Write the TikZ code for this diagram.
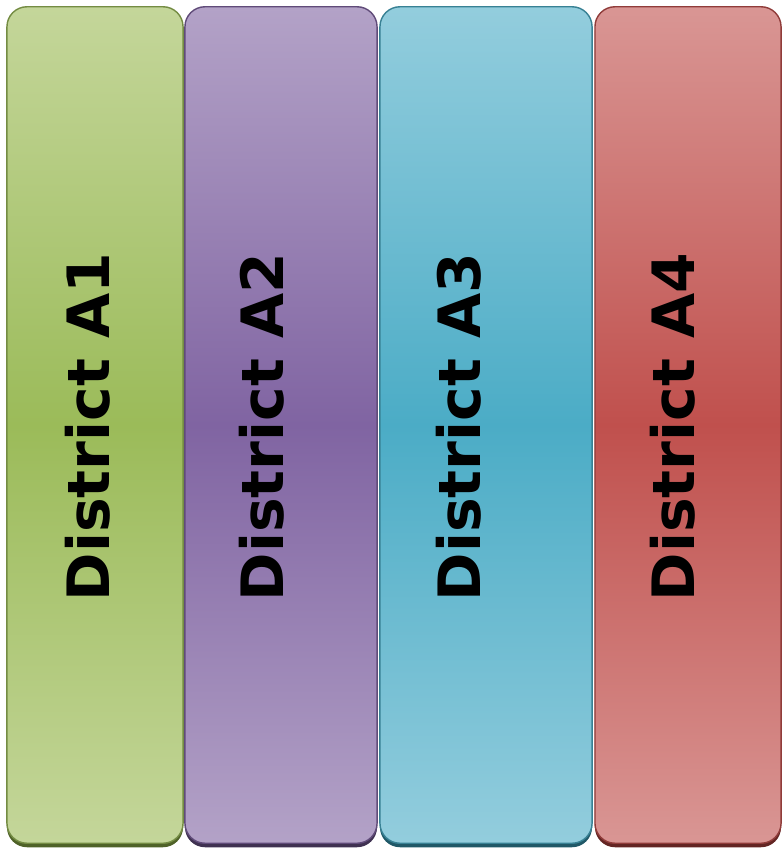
\documentclass[tikz,border=0pt]{standalone}
\usepackage{xcolor}
\usepackage{fontspec}
\usepackage{tikz}
\usetikzlibrary{positioning}
\newfontfamily\districtfont{DejaVu Sans}

\definecolor{greenTop}{HTML}{C4D69A}
\definecolor{greenMid}{HTML}{9BBB59}
\definecolor{greenDark}{HTML}{4F6228}
\definecolor{purpleTop}{HTML}{B3A2C7}
\definecolor{purpleMid}{HTML}{8064A2}
\definecolor{purpleDark}{HTML}{3F3151}
\definecolor{blueTop}{HTML}{93CDDD}
\definecolor{blueMid}{HTML}{4BACC6}
\definecolor{blueDark}{HTML}{205867}
\definecolor{redTop}{HTML}{D99694}
\definecolor{redMid}{HTML}{C0504D}
\definecolor{redDark}{HTML}{632523}

\tikzset{
  district/.style={rectangle, rounded corners=0.2cm, line width=0.4pt,
                   minimum height=8.36cm, inner sep=0pt},
  districtshadow/.style={rectangle, rounded corners=0.2cm,
                   minimum height=8.36cm, inner sep=0pt},
  districtlabel/.style={rotate=90, text=black,
                   font=\districtfont\bfseries\fontsize{16.6}{20}\selectfont}
}

\begin{document}
\begin{tikzpicture}[x=0.01cm, y=-0.01cm]

    \useasboundingbox (0,0) rectangle (782,849);

    % shadows under the bars
    \node[districtshadow,
          fill = greenDark,
          minimum width = 1.76cm
          ] (a1s) at (95,429) {};
    \node[districtshadow,
          fill = purpleDark,
          minimum width = 1.92cm
          ] (a2s) at (281,429) {};
    \node[districtshadow,
          fill = blueDark,
          minimum width = 2.12cm
          ] (a3s) at (486,429) {};
    \node[districtshadow,
          fill = redDark,
          minimum width = 1.86cm
          ] (a4s) at (688,429) {};

    % bars
    \node[district,
          draw = greenMid!75!black,
          top color = greenTop, bottom color = greenTop, middle color = greenMid,
          minimum width = 1.76cm
          ] (a1) at (95,425) {};
    \node[districtlabel] at (88,427) {District A1};

    \node[district,
          draw = purpleMid!75!black,
          top color = purpleTop, bottom color = purpleTop, middle color = purpleMid,
          minimum width = 1.92cm
          ] (a2) at (281,425) {};
    \node[districtlabel] at (262,427) {District A2};

    \node[district,
          draw = blueMid!75!black,
          top color = blueTop, bottom color = blueTop, middle color = blueMid,
          minimum width = 2.12cm
          ] (a3) at (486,425) {};
    \node[districtlabel] at (459,427) {District A3};

    \node[district,
          draw = redMid!75!black,
          top color = redTop, bottom color = redTop, middle color = redMid,
          minimum width = 1.86cm
          ] (a4) at (688,425) {};
    \node[districtlabel] at (673,427) {District A4};

\end{tikzpicture}
\end{document}
